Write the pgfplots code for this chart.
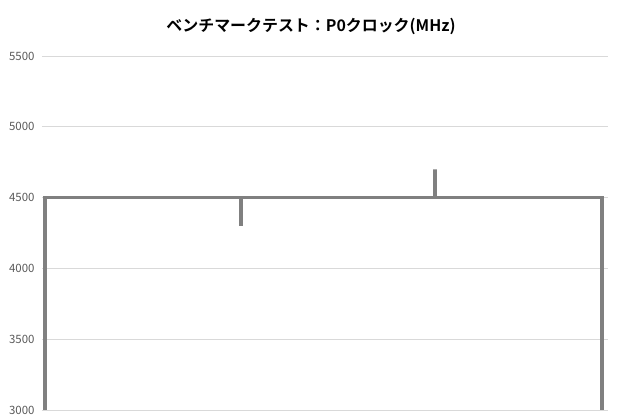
\documentclass[border=0pt]{standalone}
\usepackage{fontspec}
\setmainfont{Noto Sans CJK JP}
\newfontfamily\titlefont{Noto Sans CJK JP Bold}
\usepackage{pgfplots}
\pgfplotsset{compat=1.18}
\definecolor{linegray}{HTML}{808080}
\definecolor{gridgray}{HTML}{D9D9D9}
\definecolor{labelgray}{HTML}{595959}

\begin{document}
\begin{tikzpicture}
  \useasboundingbox (0,0) rectangle (620bp,420bp);
  \begin{axis}[
    at={(42bp,10bp)}, anchor=south west,
    scale only axis,
    width=566bp, height=354bp,
    xmin=-3, xmax=563,
    ymin=3000, ymax=5500,
    ytick distance=500,
    xtick=\empty,
    ymajorgrids,
    major grid style={gridgray, line width=0.8pt},
    axis line style={draw=none},
    major tick length=0pt,
    tick label style={font=\fontsize{11.5}{13}\selectfont, text=labelgray},
    yticklabel style={xshift=-4bp},
    /pgf/number format/assume math mode=true,
    /pgf/number format/1000 sep={},
    clip=true,
  ]
    \addplot[linegray, line width=3.2pt, line join=miter, line cap=butt, mark=none] coordinates {
      (0,2950) (0,4500) (196,4500) (196,4300) (196,4500)
      (390,4500) (390,4700) (390,4500) (557,4500) (557,2950)
    };
  \end{axis}
  \node[font=\titlefont\fontsize{16}{19}\selectfont] at (311bp,394bp) {ベンチマークテスト：P0クロック(MHz)};
\end{tikzpicture}
\end{document}
